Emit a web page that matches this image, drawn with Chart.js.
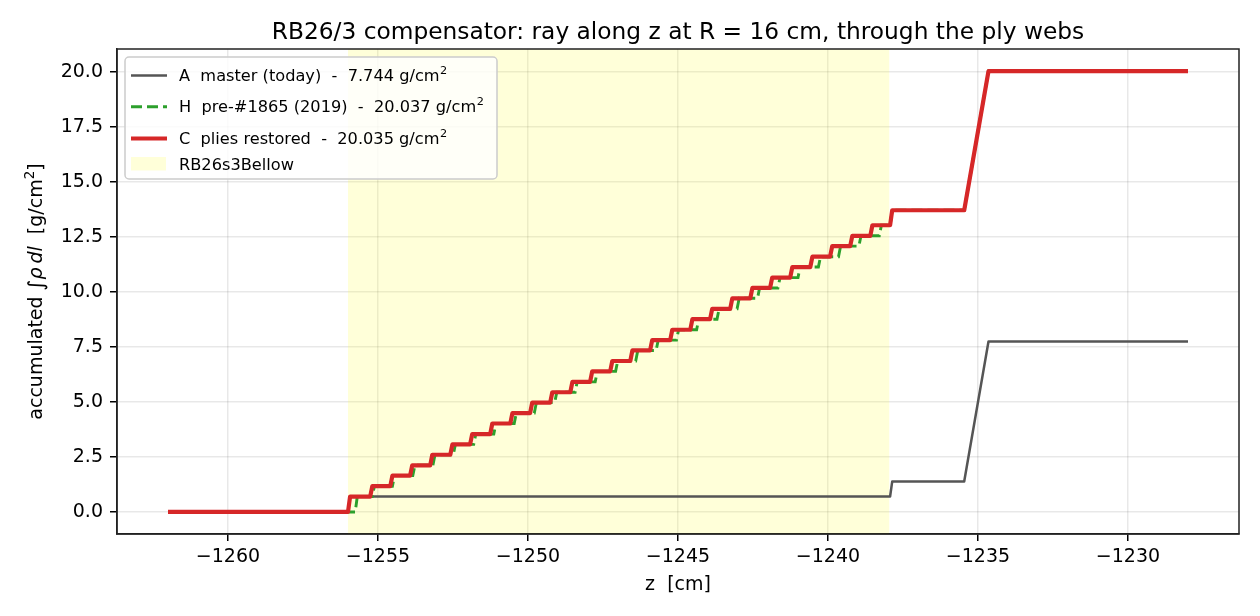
<!DOCTYPE html>
<html lang="en">
<head>
<meta charset="UTF-8">
<title>RB26/3 compensator ray</title>
<script src="https://cdn.jsdelivr.net/npm/chart.js@4.4.1/dist/chart.umd.min.js"></script>
<style>
    html, body { margin: 0; padding: 0; background: #ffffff; }
    #wrap { width: 1260px; height: 616px; }
</style>
</head>
<body>
<div id="wrap"><canvas id="rayChart" width="1260" height="616"></canvas></div>
<script>
    // ray range along z [cm]
    var zStart = -1262.0;
    var zEnd = -1228.0;
    var bellowZ = [-1256.0, -1237.95];

    // A master (today): jump positions [cm], level after each jump [g/cm2], final ramp
    var masterJumpZ = [-1256.00, -1237.93];
    var masterLevels = [0.70, 1.38];
    var masterRampZ = [-1235.46, -1234.65];
    var masterTotal = 7.744;

    // H pre-#1865 (2019)
    var histJumpZ = [-1255.76, -1255.19, -1254.52, -1253.84, -1253.17, -1252.49, -1251.81,
        -1251.14, -1250.46, -1249.79, -1249.11, -1248.43, -1247.76, -1247.08, -1246.41,
        -1245.73, -1245.05, -1244.38, -1243.70, -1243.03, -1242.35, -1241.67, -1241.00,
        -1240.32, -1239.65, -1238.97, -1238.29, -1237.93];
    var histLevels = [0.70, 1.17, 1.65, 2.12, 2.60, 3.07, 3.54, 4.02, 4.49, 4.97, 5.44,
        5.91, 6.39, 6.86, 7.34, 7.81, 8.28, 8.76, 9.23, 9.71, 10.18, 10.65, 11.13, 11.60,
        12.08, 12.55, 13.03, 13.71];
    var histRampZ = [-1235.46, -1234.65];
    var histTotal = 20.037;

    // C plies restored
    var restJumpZ = [-1256.00, -1255.26, -1254.59, -1253.93, -1253.26, -1252.59, -1251.93,
        -1251.26, -1250.59, -1249.93, -1249.26, -1248.59, -1247.93, -1247.26, -1246.59,
        -1245.93, -1245.26, -1244.59, -1243.93, -1243.26, -1242.59, -1241.93, -1241.26,
        -1240.59, -1239.93, -1239.26, -1238.59, -1237.93];
    var restLevels = [0.70, 1.17, 1.65, 2.12, 2.60, 3.07, 3.54, 4.02, 4.49, 4.97, 5.44,
        5.91, 6.39, 6.86, 7.34, 7.81, 8.28, 8.76, 9.23, 9.71, 10.18, 10.65, 11.13, 11.60,
        12.08, 12.55, 13.03, 13.71];
    var restRampZ = [-1235.46, -1234.65];
    var restTotal = 20.035;

    var xTicks = [-1260, -1255, -1250, -1245, -1240, -1235, -1230];
    var yTicks = [0, 2.5, 5, 7.5, 10, 12.5, 15, 17.5, 20];
    var xMin = -1263.7, xMax = -1226.3;
    var yMin = -1.002, yMax = 21.039;

    var RISE = 0.07; // width of a web crossing [cm]

    // turn jumps + ramp into line points
    function buildRay(jumpZ, levels, rampZ, total) {
        var pts = [{ x: zStart, y: 0 }];
        var prev = 0;
        for (var i = 0; i < jumpZ.length; i++) {
            pts.push({ x: jumpZ[i], y: prev });
            pts.push({ x: jumpZ[i] + RISE, y: levels[i] });
            prev = levels[i];
        }
        pts.push({ x: rampZ[0], y: prev });
        pts.push({ x: rampZ[1], y: total });
        pts.push({ x: zEnd, y: total });
        return pts;
    }

    Chart.defaults.font.family = "'DejaVu Sans', sans-serif";
    Chart.defaults.color = '#000';

    function minusLabel(v) {
        return (v < 0 ? '\u2212' : '') + Math.abs(v);
    }

    function drawRuns(ctx, runs, x, y) {
        var total = 0;
        runs.forEach(function (r) {
            ctx.font = r.font;
            r.w = ctx.measureText(r.text).width;
            total += r.w;
        });
        var cx = x - total / 2;
        runs.forEach(function (r) {
            ctx.font = r.font;
            ctx.fillText(r.text, cx, y + (r.dy || 0));
            cx += r.w;
        });
    }

    var decorPlugin = {
        id: 'decor',
        afterDraw: function (chart) {
            var ctx = chart.ctx;
            var a = chart.chartArea;
            var F = "'DejaVu Sans', sans-serif";
            ctx.save();

            // frame (all four spines)
            ctx.strokeStyle = '#222';
            ctx.lineWidth = 1.5;
            ctx.strokeRect(a.left, a.top, a.right - a.left, a.bottom - a.top);

            ctx.fillStyle = '#000';
            ctx.textAlign = 'left';
            ctx.textBaseline = 'alphabetic';
            var mid = (a.left + a.right) / 2;

            // title
            drawRuns(ctx, [{ text: 'RB26/3 compensator: ray along z at R = 16 cm, through the ply webs', font: '23.3px ' + F }], mid, 39);

            // x label
            drawRuns(ctx, [{ text: 'z  [cm]', font: '19px ' + F }], mid, 590);

            // y label
            ctx.save();
            ctx.translate(42, (a.top + a.bottom) / 2);
            ctx.rotate(-Math.PI / 2);
            drawRuns(ctx, [
                { text: 'accumulated ', font: '19px ' + F },
                { text: '\u222B', font: '21px ' + F, dy: 1 },
                { text: '\u03C1\u2009dl', font: 'italic 19px ' + F },
                { text: '  [g/cm', font: '19px ' + F },
                { text: '2', font: '13.5px ' + F, dy: -8 },
                { text: ']', font: '19px ' + F }
            ], 0, 0);
            ctx.restore();

            // legend
            var lx = a.left + 8, ly = a.top + 8, lw = 372, lh = 122;
            ctx.beginPath();
            ctx.roundRect(lx, ly, lw, lh, 4);
            ctx.fillStyle = 'rgba(255,255,255,0.8)';
            ctx.fill();
            ctx.strokeStyle = '#cccccc';
            ctx.lineWidth = 1.5;
            ctx.stroke();

            var baselines = [81, 112.3, 144, 170];
            chart.data.datasets.forEach(function (ds, i) {
                var by = baselines[i];
                var hy = by - 5.5;
                if (ds.legendPatch) {
                    ctx.fillStyle = ds.backgroundColor;
                    ctx.fillRect(lx + 6, by - 13, 35, 13.5);
                } else {
                    ctx.beginPath();
                    ctx.setLineDash(ds.borderDash || []);
                    ctx.strokeStyle = ds.borderColor;
                    ctx.lineWidth = ds.borderWidth;
                    ctx.moveTo(lx + 6, hy);
                    ctx.lineTo(lx + 42, hy);
                    ctx.stroke();
                    ctx.setLineDash([]);
                }
                ctx.fillStyle = '#000';
                var label = ds.label;
                var sup = '';
                if (label.slice(-1) === '\u00B2') {
                    label = label.slice(0, -1);
                    sup = '2';
                }
                ctx.font = '16.2px ' + F;
                ctx.fillText(label, lx + 54, by);
                if (sup) {
                    var w = ctx.measureText(label).width;
                    ctx.font = '11.3px ' + F;
                    ctx.fillText(sup, lx + 54 + w + 0.5, by - 7);
                }
            });
            ctx.restore();
        }
    };

    var ctx = document.getElementById('rayChart').getContext('2d');
    var rayChart = new Chart(ctx, {
        type: 'line',
        data: {
            datasets: [
                {
                    label: 'A  master (today)  -  7.744 g/cm\u00B2',
                    data: buildRay(masterJumpZ, masterLevels, masterRampZ, masterTotal),
                    borderColor: '#555555',
                    borderWidth: 2.5,
                    borderJoinStyle: 'round',
                    pointRadius: 0,
                    fill: false,
                    order: 2
                },
                {
                    label: 'H  pre-#1865 (2019)  -  20.037 g/cm\u00B2',
                    data: buildRay(histJumpZ, histLevels, histRampZ, histTotal),
                    borderColor: '#2ca02c',
                    borderWidth: 2.9,
                    borderDash: [11, 5],
                    pointRadius: 0,
                    fill: false,
                    order: 1
                },
                {
                    label: 'C  plies restored  -  20.035 g/cm\u00B2',
                    data: buildRay(restJumpZ, restLevels, restRampZ, restTotal),
                    borderColor: '#d62728',
                    borderWidth: 4.2,
                    borderJoinStyle: 'round',
                    pointRadius: 0,
                    fill: false,
                    order: 0
                },
                {
                    label: 'RB26s3Bellow',
                    data: [{ x: bellowZ[0], y: yMax }, { x: bellowZ[1], y: yMax }],
                    borderWidth: 0,
                    borderColor: 'rgba(0,0,0,0)',
                    backgroundColor: 'rgba(255,255,0,0.15)',
                    pointRadius: 0,
                    fill: 'start',
                    legendPatch: true,
                    order: 3
                }
            ]
        },
        options: {
            responsive: false,
            animation: false,
            layout: { padding: { top: 49, right: 21, bottom: 0, left: 0 } },
            plugins: {
                legend: { display: false },
                tooltip: { enabled: false },
                title: { display: false }
            },
            scales: {
                x: {
                    type: 'linear',
                    min: xMin,
                    max: xMax,
                    afterBuildTicks: function (s) { s.ticks = xTicks.map(function (v) { return { value: v }; }); },
                    afterFit: function (s) { s.height = 82; },
                    ticks: {
                        autoSkip: false,
                        maxRotation: 0,
                        padding: 5,
                        font: { size: 19 },
                        color: '#000',
                        callback: function (v) { return minusLabel(v); }
                    },
                    grid: {
                        color: 'rgba(0,0,0,0.09)',
                        lineWidth: 1.5,
                        tickColor: '#000',
                        tickLength: 7,
                        tickWidth: 1.5
                    },
                    border: { color: '#222', width: 1.5 }
                },
                y: {
                    min: yMin,
                    max: yMax,
                    afterBuildTicks: function (s) { s.ticks = yTicks.map(function (v) { return { value: v }; }); },
                    afterFit: function (s) { s.width = 117; },
                    ticks: {
                        padding: 7,
                        font: { size: 19 },
                        color: '#000',
                        callback: function (v) { return v.toFixed(1); }
                    },
                    grid: {
                        color: 'rgba(0,0,0,0.09)',
                        lineWidth: 1.5,
                        tickColor: '#000',
                        tickLength: 7,
                        tickWidth: 1.5
                    },
                    border: { color: '#222', width: 1.5 }
                }
            }
        },
        plugins: [decorPlugin]
    });
</script>
</body>
</html>
